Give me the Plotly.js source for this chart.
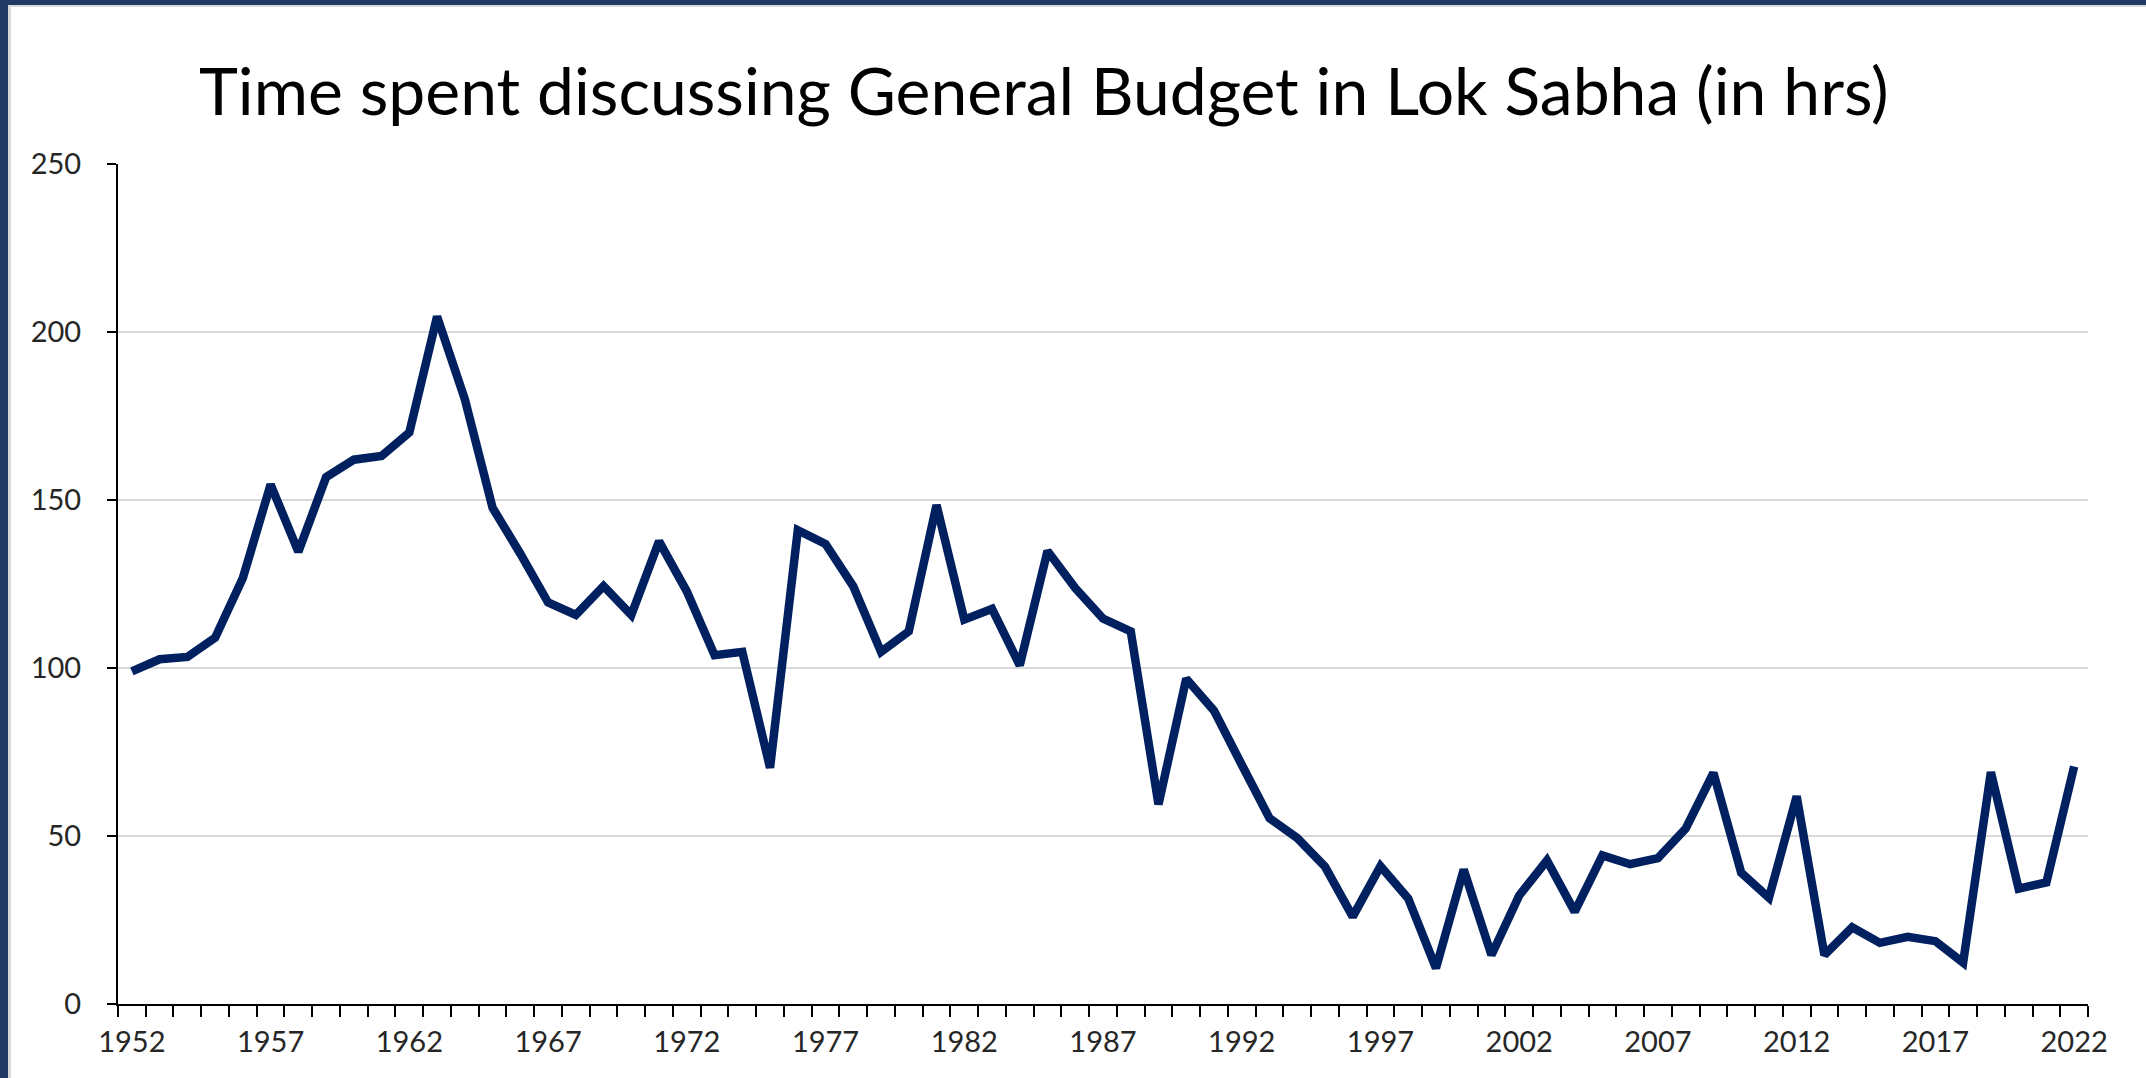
<!DOCTYPE html>
<html>
<head>
<meta charset="utf-8">
<script src="https://cdn.plot.ly/plotly-3.0.1.min.js"></script>
<style>
  html, body { margin: 0; padding: 0; background: #ffffff; overflow: hidden; }
  #chart { position: absolute; left: 0; top: 0; width: 2146px; height: 1078px; }
  .frame { position: absolute; pointer-events: none; }
</style>
</head>
<body>
<div id="chart"></div>
<div class="frame" style="left:0;top:0;width:2146px;height:5px;background:#203864;"></div>
<div class="frame" style="left:0;top:0;width:8px;height:1078px;background:#203864;"></div>
<div class="frame" style="left:8px;top:5px;width:2138px;height:2px;background:#d9d9d9;"></div>
<div class="frame" style="left:8px;top:5px;width:3px;height:1073px;background:#d9d9d9;"></div>
<script>
// Data
const years = [1952,1953,1954,1955,1956,1957,1958,1959,1960,1961,1962,1963,1964,1965,1966,1967,1968,1969,1970,1971,
               1972,1973,1974,1975,1976,1977,1978,1979,1980,1981,1982,1983,1984,1985,1986,1987,1988,1989,1990,1991,
               1992,1993,1994,1995,1996,1997,1998,1999,2000,2001,2002,2003,2004,2005,2006,2007,2008,2009,2010,2011,
               2012,2013,2014,2015,2016,2017,2018,2019,2020,2021,2022];
const hours = [99,102.6,103.3,109,126.8,154.6,134.6,156.8,162,163.1,170.1,204.6,180,147.7,134,119.5,115.8,124.4,115.8,137.7,
               122.8,103.8,104.8,70.3,141,136.9,124.3,104.8,110.9,148.5,114.4,117.6,100.8,134.8,123.8,114.7,110.9,59.4,96.8,87.3,
               71.2,55.3,49.4,40.9,26,41,31.4,10.7,40,14.6,32.3,42.7,27.5,44.2,41.6,43.4,52.2,68.8,39.1,31.6,
               61.8,14.6,22.8,18.2,20,18.7,12.3,69,34.3,36.2,70.7];
const tickYears = [1952,1957,1962,1967,1972,1977,1982,1987,1992,1997,2002,2007,2012,2017,2022];
const yTicks = [0,50,100,150,200,250];
const titleText = 'Time spent discussing General Budget in Lok Sabha (in hrs)';

const fontFam = 'Lato, "Open Sans", sans-serif';

const trace = {
  x: years,
  y: hours,
  type: 'scatter',
  mode: 'lines',
  line: { color: '#002060', width: 8.5 },
  hoverinfo: 'x+y'
};

const layout = {
  width: 2146,
  height: 1078,
  paper_bgcolor: '#ffffff',
  plot_bgcolor: '#ffffff',
  margin: { l: 118, r: 58, t: 164, b: 74, pad: 0 },
  showlegend: false,
  title: {
    text: titleText,
    font: { family: fontFam, size: 66, color: '#000000' },
    xref: 'paper', x: 0.470, xanchor: 'center',
    yref: 'container', y: 0.915, yanchor: 'middle'
  },
  xaxis: {
    range: [1951.5, 2022.5],
    tickmode: 'array',
    tickvals: tickYears,
    ticktext: tickYears.map(String),
    ticks: 'outside',
    ticklen: 11,
    tickcolor: 'rgba(0,0,0,0)',
    tickfont: { family: fontFam, size: 29, color: '#262626' },
    showgrid: false,
    zeroline: false,
    showline: true,
    linecolor: '#000000',
    linewidth: 2,
    minor: {
      tickmode: 'linear',
      tick0: 1951.5,
      dtick: 1,
      ticks: 'outside',
      ticklen: 11,
      tickwidth: 2,
      tickcolor: '#000000',
      showgrid: false
    },
    fixedrange: true
  },
  yaxis: {
    range: [0, 250],
    tickmode: 'array',
    tickvals: yTicks,
    ticktext: yTicks.map(String),
    ticks: 'outside',
    ticklen: 9,
    tickwidth: 2,
    tickcolor: '#000000',
    ticklabelstandoff: 20,
    tickfont: { family: fontFam, size: 29, color: '#262626' },
    showgrid: true,
    gridcolor: '#d9d9d9',
    gridwidth: 2,
    zeroline: false,
    showline: true,
    linecolor: '#000000',
    linewidth: 2,
    fixedrange: true
  }
};

Plotly.newPlot('chart', [trace], layout, { displayModeBar: false, staticPlot: true });
</script>
</body>
</html>
